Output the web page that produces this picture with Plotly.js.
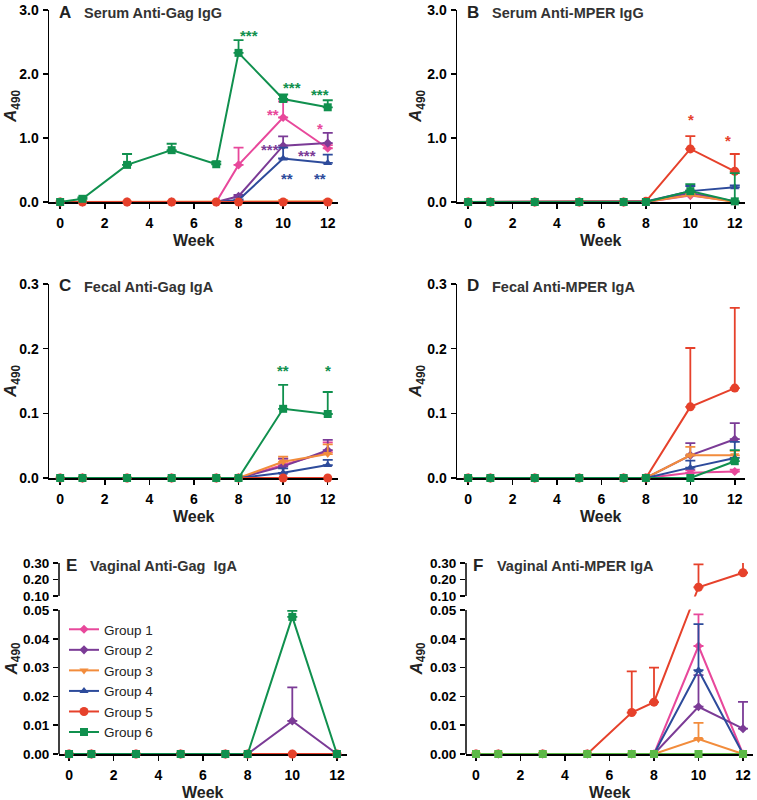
<!DOCTYPE html>
<html><head><meta charset="utf-8">
<script src="https://cdn.plot.ly/plotly-3.0.1.min.js"></script>
<style>html,body{margin:0;padding:0;background:#fff}#chart{width:757px;height:800px}</style>
</head><body><div id="chart"></div>
<script>
// ---------------- data ----------------
const weeks = [0, 1, 3, 5, 7, 8, 10, 12];
const groups = ['Group 1', 'Group 2', 'Group 3', 'Group 4', 'Group 5', 'Group 6'];
const panelLetters = ['A', 'B', 'C', 'D', 'E', 'F'];
const panelTitles = ['Serum Anti-Gag IgG', 'Serum Anti-MPER IgG', 'Fecal Anti-Gag IgA',
  'Fecal Anti-MPER IgA', 'Vaginal Anti-Gag  IgA', 'Vaginal Anti-MPER IgA'];
const xTicks = [0, 2, 4, 6, 8, 10, 12];
const serumTicks = [0, 1, 2, 3];
const serumTickText = ['0.0', '1.0', '2.0', '3.0'];
const fecalTicks = [0, 0.1, 0.2, 0.3];
const fecalTickText = ['0.0', '0.1', '0.2', '0.3'];
const vaginalTicks = [0, 0.01, 0.02, 0.03, 0.04, 0.05, 0.10, 0.20, 0.30];
const vaginalTickText = ['0.00', '0.01', '0.02', '0.03', '0.04', '0.05', '0.10', '0.20', '0.30'];

// A: Serum anti-Gag IgG (mean, SEM) rows = Group 1..6
const serumGagMean = [
  [0, 0, 0, 0, 0, 0.58, 1.32, 0.84],
  [0, 0, 0, 0, 0, 0.09, 0.88, 0.92],
  [0, 0, 0, 0, 0, 0, 0.01, 0.01],
  [0, 0, 0, 0, 0, 0.03, 0.68, 0.61],
  [0, 0, 0, 0, 0, 0, 0, 0],
  [0, 0.05, 0.58, 0.81, 0.59, 2.33, 1.61, 1.48]
];
const serumGagSEM = [
  [0, 0, 0, 0, 0, 0.27, 0.25, 0.05],
  [0, 0, 0, 0, 0, 0.02, 0.145, 0.16],
  [0, 0, 0, 0, 0, 0, 0.02, 0.01],
  [0, 0, 0, 0, 0, 0.01, 0.17, 0.13],
  [0, 0, 0, 0, 0, 0, 0, 0],
  [0, 0.02, 0.17, 0.10, 0.04, 0.20, 0.07, 0.11]
];
// B: Serum anti-MPER IgG
const serumMperMean = [
  [0, 0, 0, 0, 0, 0, 0.10, 0.01],
  [0, 0, 0, 0, 0, 0, 0.14, 0.01],
  [0, 0, 0, 0, 0, 0, 0.11, 0],
  [0, 0, 0, 0, 0, 0.01, 0.17, 0.23],
  [0, 0, 0, 0, 0, 0.01, 0.83, 0.48],
  [0, 0, 0, 0, 0, 0, 0.17, 0.01]
];
const serumMperSEM = [
  [0, 0, 0, 0, 0, 0, 0.03, 0],
  [0, 0, 0, 0, 0, 0, 0.04, 0],
  [0, 0, 0, 0, 0, 0, 0.03, 0],
  [0, 0, 0, 0, 0, 0, 0.08, 0.03],
  [0, 0, 0, 0, 0, 0, 0.20, 0.27],
  [0, 0, 0, 0, 0, 0, 0.11, 0.44]
];
// C: Fecal anti-Gag IgA
const fecalGagMean = [
  [0, 0, 0, 0, 0, 0, 0.020, 0.040],
  [0, 0, 0, 0, 0, 0, 0.018, 0.043],
  [0, 0, 0, 0, 0, 0, 0.025, 0.037],
  [0, 0, 0, 0, 0, 0, 0.008, 0.020],
  [0, 0, 0, 0, 0, 0, 0, 0],
  [0, 0, 0, 0, 0, 0, 0.107, 0.099]
];
const fecalGagSEM = [
  [0, 0, 0, 0, 0, 0, 0.010, 0.015],
  [0, 0, 0, 0, 0, 0, 0.012, 0.016],
  [0, 0, 0, 0, 0, 0, 0.008, 0.015],
  [0, 0, 0, 0, 0, 0, 0.007, 0.008],
  [0, 0, 0, 0, 0, 0, 0, 0],
  [0, 0, 0, 0, 0, 0, 0.037, 0.034]
];
// D: Fecal anti-MPER IgA
const fecalMperMean = [
  [0, 0, 0, 0, 0, 0, 0.008, 0.010],
  [0, 0, 0, 0, 0, 0, 0.035, 0.060],
  [0, 0, 0, 0, 0, 0, 0.035, 0.035],
  [0, 0, 0, 0, 0, 0, 0.016, 0.031],
  [0, 0, 0, 0, 0, 0, 0.110, 0.139],
  [0, 0, 0, 0, 0, 0, 0, 0.026]
];
const fecalMperSEM = [
  [0, 0, 0, 0, 0, 0, 0.004, 0.003],
  [0, 0, 0, 0, 0, 0, 0.019, 0.025],
  [0, 0, 0, 0, 0, 0, 0.013, 0.007],
  [0, 0, 0, 0, 0, 0, 0.011, 0.025],
  [0, 0, 0, 0, 0, 0, 0.091, 0.124],
  [0, 0, 0, 0, 0, 0, 0, 0.017]
];
// E: Vaginal anti-Gag IgA
const vagGagMean = [
  [0, 0, 0, 0, 0, 0, 0, 0],
  [0, 0, 0, 0, 0, 0, 0.0115, 0],
  [0, 0, 0, 0, 0, 0, 0, 0],
  [0, 0, 0, 0, 0, 0, 0, 0],
  [0, 0, 0, 0, 0, 0, 0, 0],
  [0, 0, 0, 0, 0, 0, 0.0476, 0]
];
const vagGagSEM = [
  [0, 0, 0, 0, 0, 0, 0, 0],
  [0, 0, 0, 0, 0, 0, 0.0116, 0],
  [0, 0, 0, 0, 0, 0, 0, 0],
  [0, 0, 0, 0, 0, 0, 0, 0],
  [0, 0, 0, 0, 0, 0, 0, 0],
  [0, 0, 0, 0, 0, 0, 0.0021, 0]
];
// F: Vaginal anti-MPER IgA
const vagMperMean = [
  [0, 0, 0, 0, 0, 0, 0.0375, 0],
  [0, 0, 0, 0, 0, 0, 0.0164, 0.0088],
  [0, 0, 0, 0, 0, 0, 0.0052, 0],
  [0, 0, 0, 0, 0, 0, 0.0291, 0],
  [0, 0, 0, 0, 0.0144, 0.018, 0.153, 0.241],
  [0, 0, 0, 0, 0, 0, 0, 0]
];
const vagMperSEM = [
  [0, 0, 0, 0, 0, 0, 0.011, 0],
  [0, 0, 0, 0, 0, 0, 0.011, 0.0093],
  [0, 0, 0, 0, 0, 0, 0.0056, 0],
  [0, 0, 0, 0, 0, 0, 0.016, 0],
  [0, 0, 0, 0, 0.0143, 0.012, 0.139, 0.08],
  [0, 0, 0, 0, 0, 0, 0, 0]
];

// significance marks: [text, week, value, group index]
const starsA = [['***', 8.47, 2.65, 5], ['***', 10.39, 1.84, 5], ['***', 11.64, 1.72, 5],
  ['**', 9.56, 1.41, 0], ['*', 11.67, 1.20, 0], ['***', 9.43, 0.86, 1], ['***', 11.07, 0.78, 1],
  ['**', 10.17, 0.42, 3], ['**', 11.67, 0.41, 3]];
const starsB = [['*', 10.04, 1.33, 4], ['*', 11.69, 1.00, 4]];
const starsC = [['**', 9.98, 0.1706, 5], ['*', 12.0, 0.1706, 5]];

// ---------------- styling ----------------
const W = 757, H = 800;
const FONT = 'Liberation Sans, Arial, Helvetica, sans-serif';
const colors = ['#e8489b', '#7b3b96', '#f28c3c', '#2d4b9b', '#e6412b', '#10904e'];
const lightGreen = '#5cb946';
const symbols = ['diamond', 'diamond', 'triangle-down', 'triangle-up', 'circle', 'square'];
const msizes = [7, 7, 8, 8, 9, 8];
// panel boxes in pixels: [left, right, top, bottom]
const boxes = [[49, 338, 10, 202], [457, 745, 10, 202], [49, 338, 284, 478],
  [457, 745, 284, 478], [59, 347, 563, 754], [466, 753, 563, 754]];

// broken-axis transform for vaginal panels (lower 0-0.05, upper 0.10-0.30)
const PXU = 144 / 0.05;          // px per unit in lower segment
const GAP = 14 / PXU;            // gap between 0.05 and 0.10
const KUP = (33 / PXU) / 0.2;    // upper segment scale
function T(v) {
  if (v <= 0.05) return v;
  if (v >= 0.10) return 0.05 + GAP + (v - 0.10) * KUP;
  return 0.05 + (v - 0.05) / 0.05 * GAP;
}
const ident = v => v;

const panels = [
  {mean: serumGagMean, sem: serumGagSEM, tf: ident},
  {mean: serumMperMean, sem: serumMperSEM, tf: ident},
  {mean: fecalGagMean, sem: fecalGagSEM, tf: ident},
  {mean: fecalMperMean, sem: fecalMperSEM, tf: ident},
  {mean: vagGagMean, sem: vagGagSEM, tf: T},
  {mean: vagMperMean, sem: vagMperSEM, tf: T}
];

const traces = [];
const layout = {
  width: W, height: H, margin: {l: 0, r: 0, t: 0, b: 0},
  paper_bgcolor: '#fff', plot_bgcolor: 'rgba(0,0,0,0)',
  showlegend: true,
  legend: {x: 64 / W, y: 1 - 614 / H, xanchor: 'left', yanchor: 'top',
    font: {family: FONT, size: 13.5, color: '#222'}, bgcolor: 'rgba(0,0,0,0)',
    tracegroupgap: 0, itemclick: false},
  annotations: [], shapes: []
};

const tickFont = {family: FONT, size: 14, color: '#000', weight: 'bold'};
const vagTickFont = {family: FONT, size: 13.5, color: '#000', weight: 'bold'};

panels.forEach((p, i) => {
  const n = i + 1;
  const xn = n === 1 ? 'x' : 'x' + n, yn = n === 1 ? 'y' : 'y' + n;
  const b = boxes[i];
  const vag = i >= 4;
  const xr = vag ? [-0.45, 12.45] : [-0.5, 12.46];
  layout[n === 1 ? 'xaxis' : 'xaxis' + n] = {
    domain: [b[0] / W, b[1] / W], anchor: yn, range: xr,
    tickmode: 'array', tickvals: xTicks, ticktext: xTicks.map(String),
    ticks: 'outside', ticklen: 5, tickwidth: 1.5, tickcolor: '#000',
    showline: true, linewidth: 1.5, linecolor: '#000', layer: 'below traces',
    showgrid: false, zeroline: false, tickfont: tickFont, ticklabelstandoff: 3,
    fixedrange: true
  };
  let yv, yt, yr;
  if (i < 2) { yv = serumTicks; yt = serumTickText; yr = [0, 3]; }
  else if (i < 4) { yv = fecalTicks; yt = fecalTickText; yr = [0, 0.3]; }
  else { yv = vaginalTicks.map(T); yt = vaginalTickText; yr = [0, T(0.30)]; }
  layout[n === 1 ? 'yaxis' : 'yaxis' + n] = {
    domain: [1 - b[3] / H, 1 - b[2] / H], anchor: xn, range: yr,
    tickmode: 'array', tickvals: yv, ticktext: yt,
    ticks: 'outside', ticklen: 5, tickwidth: 1.5, tickcolor: '#000',
    showline: !vag, linewidth: 1.5, linecolor: '#000', layer: 'below traces',
    showgrid: false, zeroline: false, tickfont: vag ? vagTickFont : tickFont,
    ticklabelstandoff: 1, fixedrange: true
  };
  if (vag) {
    layout.shapes.push({type: 'line', xref: xn + ' domain', yref: yn, x0: 0, x1: 0,
      y0: 0, y1: 0.05, line: {color: '#000', width: 1.5}, layer: 'below'});
    layout.shapes.push({type: 'line', xref: xn + ' domain', yref: yn, x0: 0, x1: 0,
      y0: T(0.10), y1: T(0.30), line: {color: '#000', width: 1.5}, layer: 'below'});
    layout.shapes.push({type: 'rect', xref: xn + ' domain', yref: yn, x0: 0.01, x1: 1,
      y0: 0.0502, y1: T(0.10) - 0.0002, fillcolor: '#fff', line: {width: 0}, layer: 'above'});
  }

  for (let g = 0; g < 6; g++) {
    const col = (i === 5 && g === 5) ? lightGreen : colors[g];
    const m = p.mean[g], s = p.sem[g];
    const yT = m.map(p.tf);
    const errT = m.map((v, k) => s[k] > 0 ? p.tf(v + s[k]) - p.tf(v) : NaN);
    traces.push({
      type: 'scatter', mode: 'lines+markers', x: weeks, y: yT,
      xaxis: xn, yaxis: yn, name: groups[g], legendgroup: groups[g],
      showlegend: i === 4,
      line: {color: col, width: 2},
      marker: {symbol: symbols[g], size: msizes[g], color: col, line: {width: 0}},
      error_y: {type: 'data', symmetric: false, array: errT, color: col, thickness: 1.8, width: 5},
      cliponaxis: (i === 5 && g === 4),
      hoverinfo: 'skip'
    });
  }

  // panel letter and title
  const tyc = (b[2] + 2);
  layout.annotations.push({xref: 'paper', yref: 'paper', x: (b[0] + (vag ? 5 : 8)) / W, y: 1 - tyc / H,
    xanchor: 'left', yanchor: 'middle', showarrow: false,
    text: '<b>' + panelLetters[i] + '</b>', font: {family: FONT, size: 17, color: '#222'}});
  layout.annotations.push({xref: 'paper', yref: 'paper', x: (b[0] + (vag ? 29 : 33)) / W, y: 1 - (tyc + 1) / H,
    xanchor: 'left', yanchor: 'middle', showarrow: false,
    text: '<b>' + panelTitles[i].replace(/  /g, '&nbsp; ') + '</b>', font: {family: FONT, size: 14.5, color: '#333'}});
  // x title
  layout.annotations.push({xref: 'paper', yref: 'paper', x: (b[0] + b[1]) / 2 / W, y: 1 - (b[3] + 38) / H,
    xanchor: 'center', yanchor: 'middle', showarrow: false,
    text: '<b>Week</b>', font: {family: FONT, size: 16, color: '#222'}});
  // y title
  const ytx = (i % 2 === 0) ? 12 : 417;
  layout.annotations.push({xref: 'paper', yref: 'paper', x: ytx / W, y: 1 - (b[2] + b[3]) / 2 / H,
    xanchor: 'center', yanchor: 'middle', showarrow: false, textangle: -90,
    text: '<b><i>A</i><sub>490</sub></b>', font: {family: FONT, size: 17, color: '#222'}});
});

function addStars(list, xn, yn) {
  list.forEach(s => layout.annotations.push({xref: xn, yref: yn, x: s[1], y: s[2],
    xanchor: 'center', yanchor: 'middle', showarrow: false, yshift: -3,
    text: '<b>' + s[0] + '</b>', font: {family: FONT, size: 15, color: colors[s[3]]}}));
}
addStars(starsA, 'x', 'y');
addStars(starsB, 'x2', 'y2');
addStars(starsC, 'x3', 'y3');

Plotly.newPlot('chart', traces, layout, {displayModeBar: false, staticPlot: true});
</script></body></html>
